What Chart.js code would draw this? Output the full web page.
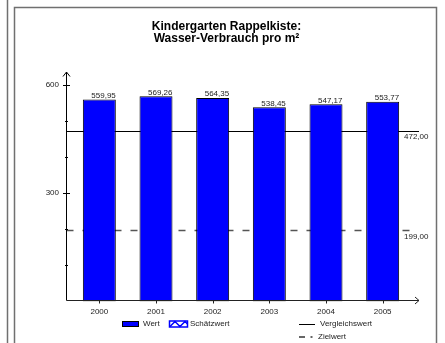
<!DOCTYPE html>
<html><head><meta charset="utf-8">
<script src="https://cdn.jsdelivr.net/npm/chart.js@4.4.1/dist/chart.umd.min.js"></script>
<style>html,body{margin:0;padding:0;background:#fff;}#wrap{width:445px;height:343px;position:relative;overflow:hidden;}</style>
</head><body><div id="wrap"><canvas id="c" width="445" height="343"></canvas></div>
<script>
const years = ['2000', '2001', '2002', '2003', '2004', '2005'];
const wert = [559.95, 569.26, 564.35, 538.45, 547.17, 553.77];
const vergleichswert = 472.00;
const zielwert = 199.00;
const yTickValues = [0, 100, 200, 300, 400, 500, 600];
const yLabelValues = [300, 600];
const titleLines = ['Kindergarten Rappelkiste:', 'Wasser-Verbrauch pro m²'];
const legendLabels = ['Wert', 'Schätzwert', 'Vergleichswert', 'Zielwert'];

const FONT = '"Liberation Sans", Arial, Helvetica, sans-serif';
const fmt = v => v.toFixed(2).replace('.', ',');

function seg(ctx, x1, y1, x2, y2) { ctx.beginPath(); ctx.moveTo(x1, y1); ctx.lineTo(x2, y2); ctx.stroke(); }

const deco = {
  id: 'deco',
  beforeDraw(chart) {
    const ctx = chart.ctx;
    ctx.save();
    ctx.fillStyle = '#fff';
    ctx.fillRect(0, 0, chart.width, chart.height);
    // panel frames
    ctx.strokeStyle = '#707070';
    ctx.lineWidth = 1.5;
    seg(ctx, 7.5, 0, 7.5, chart.height);
    ctx.beginPath();
    ctx.moveTo(14.5, chart.height + 2); ctx.lineTo(14.5, 7.5); ctx.lineTo(436.5, 7.5); ctx.lineTo(436.5, chart.height + 2);
    ctx.stroke();
    // title
    ctx.fillStyle = '#000';
    ctx.font = 'bold 12px ' + FONT;
    ctx.textAlign = 'center';
    ctx.textBaseline = 'alphabetic';
    ctx.fillText(titleLines[0], 226.5, 29.5);
    ctx.fillText(titleLines[1], 226.5, 41.5);
    ctx.restore();
  },
  beforeDatasetsDraw(chart) {
    const ctx = chart.ctx, a = chart.chartArea, ys = chart.scales.y;
    const x0 = Math.round(a.left - 5) + 0.5;
    ctx.save();
    // Vergleichswert line
    const yv = Math.round(ys.getPixelForValue(vergleichswert)) + 0.5;
    ctx.strokeStyle = '#000'; ctx.lineWidth = 1;
    seg(ctx, x0, yv, a.right + 8, yv);
    // Zielwert dashed line
    const yz = Math.round(ys.getPixelForValue(zielwert)) + 0.5;
    ctx.strokeStyle = '#555'; ctx.lineWidth = 1.5;
    ctx.setLineDash([7, 9]);
    seg(ctx, x0, yz, a.right + 1, yz);
    ctx.setLineDash([]);
    // labels
    ctx.fillStyle = '#222';
    ctx.font = '8px ' + FONT;
    ctx.textAlign = 'left';
    ctx.textBaseline = 'middle';
    ctx.fillText(fmt(vergleichswert), a.right - 7, yv + 5);
    ctx.fillText(fmt(zielwert), a.right - 7, yz + 6);
    ctx.restore();
  },
  afterDatasetsDraw(chart) {
    const ctx = chart.ctx, a = chart.chartArea, ys = chart.scales.y, xs = chart.scales.x;
    const x0 = Math.round(a.left - 5) + 0.5;
    const y0 = Math.round(a.bottom) - 0.5;
    ctx.save();
    ctx.strokeStyle = '#000'; ctx.lineWidth = 1;
    // y axis with arrow
    seg(ctx, x0, y0, x0, a.top + 2);
    ctx.beginPath(); ctx.moveTo(x0 - 3.5, a.top + 6.5); ctx.lineTo(x0, a.top + 2); ctx.lineTo(x0 + 3.5, a.top + 6.5); ctx.stroke();
    yTickValues.forEach(v => {
      if (v === 0) return;
      const y = Math.round(ys.getPixelForValue(v)) + 0.5;
      const h = yLabelValues.includes(v) ? 3.5 : 1.5;
      seg(ctx, x0 - h, y, x0 + h, y);
    });
    // x axis with arrow
    ctx.strokeStyle = '#222';
    seg(ctx, x0, y0, a.right + 8, y0);
    ctx.beginPath(); ctx.moveTo(a.right + 4, y0 - 3.5); ctx.lineTo(a.right + 8, y0); ctx.lineTo(a.right + 4, y0 + 3.5); ctx.stroke();
    years.forEach((yr, i) => {
      const x = Math.round(xs.getPixelForValue(i)) + 0.5;
      seg(ctx, x, y0, x, y0 + 3);
    });
    // value labels
    const meta = chart.getDatasetMeta(0);
    ctx.fillStyle = '#222';
    ctx.font = '8px ' + FONT;
    ctx.textAlign = 'right';
    ctx.textBaseline = 'alphabetic';
    meta.data.forEach((bar, i) => {
      ctx.fillText(fmt(wert[i]), bar.x + bar.width / 2, bar.y - 1.5);
    });
    ctx.restore();
  },
  afterDraw(chart) {
    const ctx = chart.ctx;
    ctx.save();
    ctx.font = '8px ' + FONT;
    ctx.fillStyle = '#222';
    ctx.textAlign = 'left';
    ctx.textBaseline = 'middle';
    const r1 = 324, r2 = 337;
    // Wert
    ctx.fillStyle = '#000';
    ctx.fillRect(122, r1 - 3, 17, 6);
    ctx.fillStyle = '#0000ff';
    ctx.fillRect(123, r1 - 2, 15, 4);
    ctx.fillStyle = '#222';
    ctx.fillText(legendLabels[0], 143, r1);
    // Schätzwert
    ctx.fillStyle = '#fff';
    ctx.fillRect(169, r1 - 3.5, 19, 7);
    ctx.strokeStyle = '#0000ff'; ctx.lineWidth = 1.5;
    ctx.strokeRect(169.5, r1 - 3, 18, 6);
    ctx.beginPath();
    ctx.moveTo(170, r1 + 2.5); ctx.lineTo(175, r1 - 2.5); ctx.lineTo(180, r1 + 2.5); ctx.lineTo(185, r1 - 2.5); ctx.lineTo(187.5, r1);
    ctx.stroke();
    ctx.fillStyle = '#222';
    ctx.fillText(legendLabels[1], 190, r1);
    // Vergleichswert
    ctx.strokeStyle = '#000'; ctx.lineWidth = 1;
    seg(ctx, 299, r1 + 0.5, 315, r1 + 0.5);
    ctx.fillText(legendLabels[2], 320, r1);
    // Zielwert
    ctx.strokeStyle = '#333'; ctx.lineWidth = 1.5;
    seg(ctx, 299, r2, 305, r2);
    seg(ctx, 310.5, r2, 312.5, r2);
    ctx.fillText(legendLabels[3], 318, r2);
    ctx.restore();
  }
};

new Chart(document.getElementById('c'), {
  type: 'bar',
  data: {
    labels: years,
    datasets: [{
      label: legendLabels[0],
      data: wert,
      backgroundColor: '#0000ff',
      borderColor: '#000',
      borderWidth: 1,
      borderSkipped: false,
      barPercentage: 0.582,
      categoryPercentage: 1
    }]
  },
  options: {
    responsive: false,
    animation: false,
    devicePixelRatio: 1,
    layout: { padding: { top: 70, bottom: 20, left: 0, right: 34 } },
    plugins: { legend: { display: false }, title: { display: false }, tooltip: { enabled: false } },
    scales: {
      x: {
        offset: true,
        grid: { display: false, drawTicks: false, tickLength: 0 },
        border: { display: false },
        ticks: { color: '#222', font: { family: FONT, size: 8 }, padding: 6, maxRotation: 0 }
      },
      y: {
        min: 0,
        max: 642,
        grid: { display: false, drawTicks: false, tickLength: 0 },
        border: { display: false },
        afterBuildTicks(s) { s.ticks = yTickValues.map(v => ({ value: v })); },
        ticks: {
          color: '#222',
          font: { family: FONT, size: 8 },
          padding: 12,
          autoSkip: false,
          callback: v => yLabelValues.includes(v) ? String(v) : ''
        },
        afterFit(s) { s.width = 71; }
      }
    }
  },
  plugins: [deco]
});
</script>
</body></html>
